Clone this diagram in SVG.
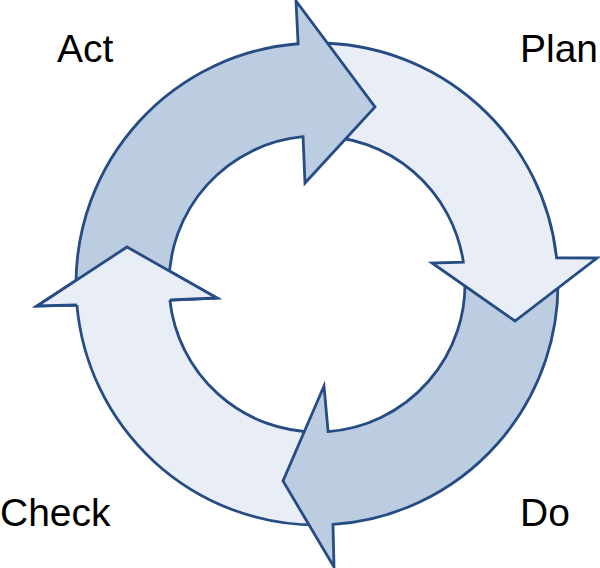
<svg xmlns="http://www.w3.org/2000/svg" width="600" height="568" viewBox="0 0 600 568">
<style>
.arr{stroke:#264c84;stroke-width:2.8;stroke-linejoin:miter;stroke-miterlimit:10}
.dark{fill:#bccde1}
.light{fill:#e9eef6}
.lbl{font-family:"Liberation Sans",Arial,sans-serif;font-size:39px;fill:#000}
</style>
<rect width="600" height="568" fill="#fff"/>
<g id="connectors">
<g id="check-arrow">
<path class="arr light" d="M317,525 A241,241 0 0,1 76.92,305 L37,306 L127,247 L217,298 L169.87,300 A148,148 0 0,0 317,432 Z"/>
</g>
<g id="do-arrow">
<path class="arr dark" d="M557.67,271.39 A241,241 0 0,1 332.97,524.47 L334,567 L283,481 L324,386 L328.1,431.58 A148,148 0 0,0 464.8,276.25 Z"/>
</g>
<g id="plan-arrow">
<path class="arr light" d="M317,43 A241,241 0 0,1 556.59,257.97 L597,258 L515,321 L432,263 L463.37,262.12 A148,148 0 0,0 317,136 Z"/>
</g>
<g id="act-arrow">
<path class="arr dark" d="M76.01,286.1 A241,241 0 0,1 298.09,43.74 L296,1 L375,107 L305,183 L303.07,136.66 A148,148 0 0,0 169,285.29 Z"/>
</g>
<g id="check-head-overlay">
<polygon class="light" points="76.92,305 37,306 127,247 217,298 169.87,300"/>
<polyline class="arr" fill="none" points="76.92,305 37,306 127,247 217,298 169.87,300"/>
</g>
</g>
<g id="act"><text class="lbl" x="57" y="62">Act</text></g>
<g id="plan"><text class="lbl" x="520" y="62">Plan</text></g>
<g id="do"><text class="lbl" x="520" y="526">Do</text></g>
<g id="check"><text class="lbl" x="0" y="526">Check</text></g>
</svg>
